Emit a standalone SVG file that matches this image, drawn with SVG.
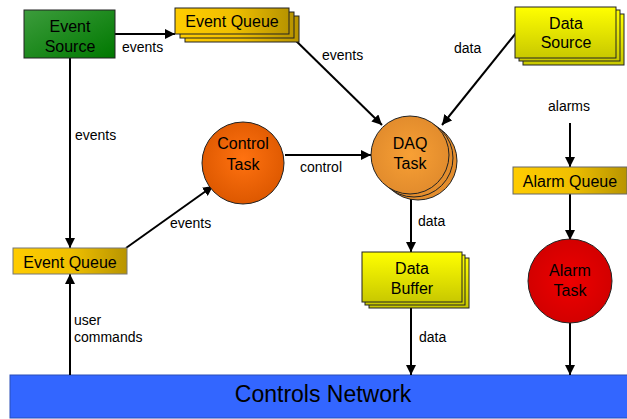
<svg xmlns="http://www.w3.org/2000/svg" width="627" height="419" viewBox="0 0 627 419">
<defs>
<linearGradient id="gGreen" x1="0" y1="0" x2="1" y2="1"><stop offset="0" stop-color="#3c9c3c"/><stop offset="1" stop-color="#007800"/></linearGradient>
<linearGradient id="gGold" x1="0" y1="0" x2="1" y2="0"><stop offset="0" stop-color="#ffcc00"/><stop offset="0.5" stop-color="#f0c000"/><stop offset="1" stop-color="#b89400"/></linearGradient>
<linearGradient id="gYel" x1="0" y1="0" x2="0" y2="1"><stop offset="0" stop-color="#ffff00"/><stop offset="1" stop-color="#c8c800"/></linearGradient>
<radialGradient id="gCtl" cx="0.5" cy="0.45" r="0.55"><stop offset="0" stop-color="#ff7210"/><stop offset="1" stop-color="#dd5800"/></radialGradient>
<radialGradient id="gDaq" cx="0.5" cy="0.5" r="0.55"><stop offset="0" stop-color="#f8a035"/><stop offset="1" stop-color="#e08a2c"/></radialGradient>
<radialGradient id="gRed" cx="0.5" cy="0.5" r="0.55"><stop offset="0" stop-color="#ee0000"/><stop offset="1" stop-color="#d00000"/></radialGradient>
<marker id="ah" viewBox="0 0 10 10" refX="10" refY="5" markerWidth="5" markerHeight="5" orient="auto" markerUnits="strokeWidth"><path d="M0,0 L10,5 L0,10 z" fill="#000"/></marker>
<style>
.t{font-family:"Liberation Sans",Arial,sans-serif;font-size:16px;fill:#000;text-anchor:middle}
.l{font-family:"Liberation Sans",Arial,sans-serif;font-size:14px;fill:#000}
.c{fill:none;stroke:#000;stroke-width:2}
.a{marker-end:url(#ah)}
.box{stroke:#222;stroke-width:1}
</style>
</defs>
<g id="network"><rect x="10" y="375" width="620" height="43" fill="#3366ff" stroke="#2a4fb8" stroke-width="1"/><text x="323" y="402" class="t" style="font-size:23px">Controls Network</text></g>
<g id="connectors">
<line class="c a" x1="115" y1="34" x2="175" y2="34"/>
<line class="c a" x1="288" y1="33" x2="382" y2="125"/>
<line class="c a" x1="516" y1="33" x2="442" y2="125"/>
<line class="c a" x1="285" y1="155" x2="371" y2="155"/>
<line class="c a" x1="411" y1="195" x2="411" y2="252"/>
<line class="c a" x1="411" y1="302" x2="411" y2="375"/>
<line class="c a" x1="570" y1="123" x2="570" y2="167"/>
<line class="c a" x1="570" y1="194" x2="570" y2="240"/>
<line class="c a" x1="570" y1="323" x2="570" y2="375"/>
<line class="c a" x1="70" y1="58" x2="70" y2="248"/>
<line class="c a" x1="126" y1="248" x2="213" y2="186"/>
<line class="c a" x1="70" y1="375" x2="70" y2="274"/>
<text class="l" x="122" y="52">events</text>
<text class="l" x="322" y="60">events</text>
<text class="l" x="454" y="53">data</text>
<text class="l" x="548" y="111">alarms</text>
<text class="l" x="75" y="140">events</text>
<text class="l" x="300" y="172">control</text>
<text class="l" x="170" y="228">events</text>
<text class="l" x="418" y="226">data</text>
<text class="l" x="419" y="342">data</text>
<text class="l" x="74" y="325">user</text>
<text class="l" x="74" y="342">commands</text>
</g>
<g id="event-source"><rect x="24" y="10" width="91" height="48" fill="url(#gGreen)" class="box"/><text class="t" x="70" y="32">Event</text><text class="t" x="70" y="52">Source</text></g>
<g id="event-queue-top">
<rect x="185" y="16" width="114" height="26" fill="url(#gGold)" class="box"/>
<rect x="180" y="12" width="114" height="26" fill="url(#gGold)" class="box"/>
<rect x="175" y="8" width="114" height="26" fill="url(#gGold)" class="box"/>
<text class="t" x="232" y="27">Event Queue</text></g>
<g id="data-source">
<rect x="523" y="14" width="101" height="51" fill="url(#gYel)" class="box"/>
<rect x="519" y="10" width="101" height="51" fill="url(#gYel)" class="box"/>
<rect x="515" y="7" width="101" height="51" fill="url(#gYel)" class="box"/>
<text class="t" x="566" y="29">Data</text><text class="t" x="566" y="48">Source</text></g>
<g id="control-task"><circle cx="243" cy="163" r="41" fill="url(#gCtl)" class="box"/><text class="t" x="243" y="149">Control</text><text class="t" x="243" y="170">Task</text></g>
<g id="daq-task">
<circle cx="418" cy="161" r="39" fill="url(#gDaq)" class="box"/>
<circle cx="414" cy="158" r="39" fill="url(#gDaq)" class="box"/>
<circle cx="410" cy="155" r="39" fill="url(#gDaq)" class="box"/>
<text class="t" x="410" y="149">DAQ</text><text class="t" x="410" y="169">Task</text></g>
<g id="event-queue-left"><rect x="13" y="248" width="114" height="26" fill="url(#gGold)" stroke="#777" stroke-width="1"/><text class="t" x="70" y="268">Event Queue</text></g>
<g id="alarm-queue"><rect x="513" y="167" width="114" height="27" fill="url(#gGold)" stroke="#666" stroke-width="1"/><text class="t" x="570" y="187">Alarm Queue</text></g>
<g id="data-buffer">
<rect x="369" y="258" width="100" height="50" fill="url(#gYel)" class="box"/>
<rect x="365" y="255" width="100" height="50" fill="url(#gYel)" class="box"/>
<rect x="362" y="252" width="100" height="50" fill="url(#gYel)" class="box"/>
<text class="t" x="412" y="274">Data</text><text class="t" x="412" y="294">Buffer</text></g>
<g id="alarm-task"><circle cx="570" cy="281" r="42" fill="url(#gRed)" class="box"/><text class="t" x="570" y="276">Alarm</text><text class="t" x="570" y="296">Task</text></g>
</svg>
